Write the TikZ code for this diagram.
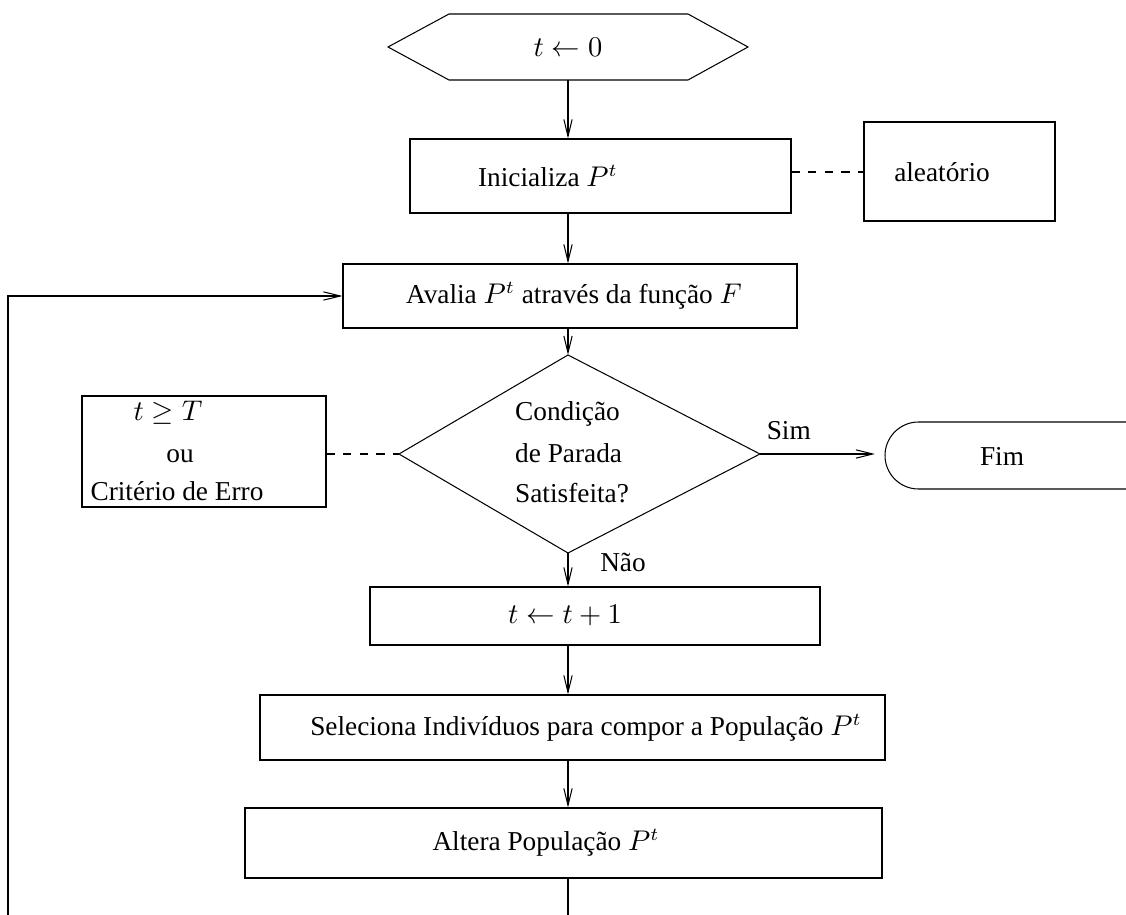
\documentclass[tikz,border=0pt]{standalone}
\usepackage{fontspec}
\setmainfont{Liberation Serif}
\usetikzlibrary{arrows.meta,shapes.misc}
\begin{document}
\begin{tikzpicture}[x=0.3846pt,y=-0.3846pt,
  font=\fontsize{10.5}{12.5}\selectfont,
  box/.style={draw,inner sep=0pt},
  arr/.style={-{Straight Barb[length=6.5pt,width=3.2pt]}},
  dsh/.style={dash pattern=on 3.2pt off 3.2pt}]
\useasboundingbox (0,0) rectangle (1126,915);
\clip (0,0) rectangle (1126,915);
% start hexagon
\draw (388,47) -- (449,14) -- (688,14) -- (748,47) -- (688,80) -- (449,80) -- cycle;
\node (start) at (568,47) {$t \leftarrow 0$};
\coordinate (startb) at (568,80);
% boxes
\node[box,minimum width=381*0.3846pt,minimum height=74*0.3846pt] (init) at (600.5,176) {};
\node at (548,176) {Inicializa $P^t$};
\node[box,minimum width=191*0.3846pt,minimum height=99*0.3846pt] (aleat) at (959.5,171.5) {};
\node at (942,172) {aleatório};
\node[box,minimum width=454*0.3846pt,minimum height=64*0.3846pt] (aval) at (570,296) {};
\node at (574,296) {Avalia $P^t$ através da função $F$};
% diamond
\coordinate (dt) at (568,355);
\coordinate (dr) at (760,454);
\coordinate (db) at (568,553);
\coordinate (dl) at (399,454);
\draw (dt) -- (dr) -- (db) -- (dl) -- cycle;
\node[anchor=base west] (c1) at (506,420) {Condição};
\node[anchor=base west] (c2) at (506,462) {de Parada};
\node[anchor=base west] (c3) at (506,503) {Satisfeita?};
% condition box
\node[box,minimum width=244*0.3846pt,minimum height=111*0.3846pt] (crit) at (204,451.5) {};
\node (tT) at (168,413) {$t \geq T$};
\node[anchor=base] (ou) at (180,462) {ou};
\node[anchor=base] (ce) at (177,500) {Critério de Erro};
% Fim
\node[draw,rounded rectangle,minimum width=290*0.3846pt,minimum height=67*0.3846pt,inner sep=0pt] (fim) at (1030,455.5) {};
\node at (1002,456) {Fim};
\coordinate (simend) at (875,454);
% step boxes
\node[box,minimum width=450*0.3846pt,minimum height=58*0.3846pt] (inc) at (595,616) {};
\node at (565,616) {$t \leftarrow t+1$};
\node[box,minimum width=625*0.3846pt,minimum height=65*0.3846pt] (sel) at (572.5,727.5) {};
\node at (586,728) {Seleciona Indivíduos para compor a População $P^t$};
\node[box,minimum width=637*0.3846pt,minimum height=70*0.3846pt] (alt) at (563.5,843) {};
\node at (546,843) {Altera População $P^t$};
% connectors
\draw[arr] (startb) -- (568,0 |- init.north);
\draw[arr] (568,0 |- init.south) -- (568,0 |- aval.north);
\draw[arr] (568,0 |- aval.south) -- (dt);
\draw[dsh] (init.east |- 0,172) -- (aleat.west |- 0,172);
\draw[dsh] (crit.east |- dl) -- (dl);
\draw[arr] (dr) -- node[above,pos=0.25,yshift=2pt] {Sim} (simend);
\draw[arr] (db) -- (568,0 |- inc.north);
\node (nao) at (623,562) {Não};
\draw[arr] (568,0 |- inc.south) -- (568,0 |- sel.north);
\draw[arr] (568,0 |- sel.south) -- (568,0 |- alt.north);
\coordinate (bot) at (568,915);
\coordinate (botl) at (8,915);
\draw (568,0 |- alt.south) -- (bot);
\draw[arr] (botl) -- (8,296) -- (aval.west);
\end{tikzpicture}
\end{document}
